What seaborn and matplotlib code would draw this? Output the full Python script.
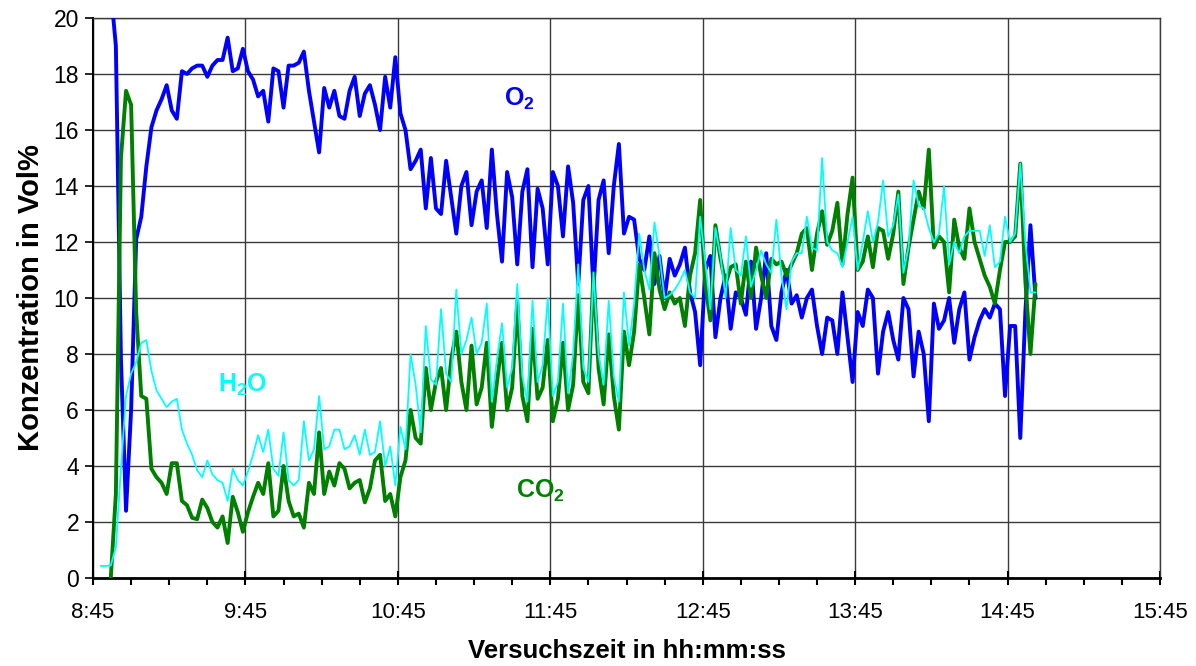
import numpy as np
import pandas as pd
import matplotlib
matplotlib.use("Agg")
import matplotlib.pyplot as plt
import seaborn as sns
from matplotlib.ticker import MultipleLocator, FuncFormatter

# Measurement log: one sample every 2 minutes, first sample at 8:48
first_sample = "08:48"
sample_step_min = 2

h2o = [0.43, 0.43, 0.45, 1.1, 3.9, 6.5, 7.3, 7.7, 8.4, 8.5, 7.4, 6.7, 6.4, 6.1, 6.3, 6.4, 5.3, 4.8, 4.4, 3.85,
       3.6, 4.2, 3.7, 3.5, 3.4, 2.75, 3.9, 3.5, 3.3, 3.8, 4.4, 5.1, 4.5, 5.3, 3.9, 3.65, 5.2, 3.5,
       3.3, 3.5, 5.6, 4.2, 4.6, 6.5, 4.6, 4.7, 5.3, 5.3, 4.6, 4.7, 5.1, 4.4, 5.3, 4.4, 4.5, 5.6, 4.0, 4.7,
       3.3, 5.4, 4.6, 8.0, 6.9, 5.2, 9.0, 7.1, 6.9, 9.6, 7.3, 7.0, 10.3, 8.0, 8.5, 9.3, 8.0, 8.4, 9.8,
       6.3, 7.8, 9.1, 6.8, 7.5, 10.5, 7.2, 6.3, 9.9, 7.0, 7.6, 10.0, 6.5, 7.0, 9.8, 6.6, 8.0, 11.2, 7.5, 7.0,
       10.9, 8.0, 6.9, 9.9, 7.2, 6.3, 10.2, 8.3, 9.8, 12.3, 11.0, 10.3, 12.7, 11.5, 10.0, 10.1, 10.3, 10.6, 11.0,
       10.2, 10.0, 12.9, 11.3, 9.6, 12.5, 11.5, 10.0, 12.5, 11.0, 10.8, 12.2, 10.4, 11.0, 11.7, 11.2, 10.9, 12.8,
       10.8, 9.6, 11.3, 11.6, 11.6, 12.9, 11.8, 11.7, 15.0, 12.0, 11.7, 11.6, 11.1, 12.0, 12.9, 11.0, 12.0, 13.1,
       12.0, 12.7, 14.2,
       12.2, 12.6, 13.7, 10.9, 11.8, 14.2, 13.3, 13.2, 12.5, 12.0, 12.3, 14.0, 11.2, 12.0, 11.6, 12.2, 12.4, 12.4,
       12.4, 11.5, 12.6, 11.1, 11.3, 12.9, 12.0, 12.3, 14.8, 12.0, 10.2, 10.2]

co2 = [None, None, 0.0, 3.0, 15.0, 17.4, 16.9, 9.5, 6.5, 6.4, 3.9, 3.6, 3.4, 3.0, 4.1, 4.1, 2.75, 2.6, 2.15, 2.1,
       2.8, 2.5, 2.0, 1.8, 2.2, 1.25, 2.9, 2.35, 1.65, 2.35, 2.9, 3.4, 3.0, 4.1, 2.2, 2.4, 4.0, 2.75,
       2.2, 2.3, 1.8, 3.4, 3.0, 5.2, 3.0, 3.8, 3.3, 4.1, 3.9, 3.2, 3.4, 3.5, 2.7, 3.2, 4.2, 4.4, 2.75, 3.0,
       2.2, 3.6, 4.2, 6.0, 5.0, 4.8, 7.5, 6.0, 7.0, 7.5, 6.0, 7.8, 8.8, 7.0, 6.0, 8.3, 6.2, 6.8, 8.4,
       5.4, 7.0, 8.4, 6.0, 6.8, 9.9, 6.5, 5.6, 8.9, 6.4, 6.8, 8.5, 5.6, 6.4, 8.4, 6.0, 6.9, 10.1, 7.0, 6.6,
       10.9, 7.5, 6.2, 8.7, 6.5, 5.3, 8.8, 7.6, 8.8, 11.2, 10.0, 8.7, 11.6, 10.3, 9.6, 10.2, 9.8, 10.0, 9.0,
       10.8, 11.6, 13.5, 10.5, 9.2, 12.6, 11.4, 10.5, 11.1, 11.2, 9.8, 11.3, 10.0, 11.8, 10.8, 10.0, 11.4, 11.2,
       11.3, 10.8, 11.2, 11.6, 12.3, 12.5, 11.0, 12.3, 13.1, 11.9, 12.4, 13.4, 11.2, 13.0, 14.3, 11.0, 11.3, 12.2,
       11.1, 12.5, 12.4,
       11.4, 12.3, 13.8, 10.5, 11.8, 12.8, 13.8, 13.2, 15.3, 11.8, 12.2, 12.0, 10.2, 12.8, 11.8, 11.4, 13.2, 12.0,
       11.4, 10.8, 10.4, 9.8, 11.0, 12.0, 12.0, 12.2, 14.8, 10.6, 8.0, 10.5]

o2 = [None, None, 21.0, 19.0, 7.8, 2.4, 6.0, 12.1, 12.9, 14.7, 16.1, 16.7, 17.1, 17.6, 16.7, 16.4, 18.1, 18.0, 18.2, 18.3,
      18.3, 17.9, 18.3, 18.5, 18.5, 19.3, 18.1, 18.2, 18.9, 18.1, 17.8, 17.2, 17.4, 16.3, 18.2, 18.1, 16.8, 18.3,
      18.3, 18.4, 18.8, 17.4, 16.3, 15.2, 17.5, 16.8, 17.4, 16.5, 16.4, 17.4, 17.9, 16.5, 17.3, 17.6, 16.9, 16.0, 17.9, 16.8,
      18.6, 16.6, 16.0, 14.6, 14.9, 15.3, 13.2, 15.0, 13.2, 13.0, 14.9, 13.6, 12.3, 14.0, 14.5, 12.6, 13.8, 14.2, 12.5,
      15.3, 13.0, 11.3, 14.5, 13.6, 11.2, 13.8, 14.6, 11.1, 13.9, 13.2, 11.2, 14.5, 14.0, 12.2, 14.7, 13.4, 10.5, 13.5, 14.0,
      10.3, 13.5, 14.2, 11.6, 14.0, 15.5, 12.3, 12.9, 12.8, 11.4, 11.0, 12.2, 10.5, 11.5, 10.0, 11.4, 10.8, 11.2, 11.8,
      10.2, 9.5, 7.6, 11.0, 11.5, 8.6, 10.0, 10.8, 8.9, 10.2, 10.0, 9.4, 11.3, 8.9, 10.0, 11.6, 9.0, 8.5,
      10.2, 11.0, 9.8, 10.1, 9.3, 10.0, 10.3, 9.0, 8.0, 9.3, 9.2, 8.0, 10.2, 8.6, 7.0, 9.5, 9.0, 10.3,
      10.0, 7.3, 8.8,
      9.5, 8.5, 7.8, 10.0, 9.6, 7.2, 8.8, 8.0, 5.6, 9.8, 8.9, 9.2, 10.0, 8.4, 9.6, 10.2, 7.8, 8.6,
      9.2, 9.6, 9.3, 9.8, 9.6, 6.5, 9.0, 9.0, 5.0, 9.5, 12.6, 10.0]

x_start = "08:45"
x_end = "15:45"
y_ticks = list(range(0, 21, 2))

def to_min(s):
    h, m = s.split(":")
    return int(h) * 60 + int(m)

axis_origin = to_min(x_start)
minutes = to_min(first_sample) - axis_origin + sample_step_min * np.arange(len(h2o))
df = pd.DataFrame({"t": minutes,
                   "O2": pd.to_numeric(pd.Series(o2), errors="coerce"),
                   "CO2": pd.to_numeric(pd.Series(co2), errors="coerce"),
                   "H2O": pd.to_numeric(pd.Series(h2o), errors="coerce")})

sns.set_theme(style="white")
plt.rcParams["font.family"] = ["Liberation Sans", "DejaVu Sans"]
plt.rcParams["mathtext.fontset"] = "custom"
plt.rcParams["mathtext.rm"] = "Liberation Sans"
plt.rcParams["mathtext.bf"] = "Liberation Sans:bold"
plt.rcParams["text.color"] = "black"
plt.rcParams["axes.labelcolor"] = "black"
plt.rcParams["xtick.color"] = "black"
plt.rcParams["ytick.color"] = "black"

fig = plt.figure(figsize=(11.96, 6.66), dpi=100)
ax = fig.add_axes([93 / 1196, 1 - 578 / 666, (1160 - 93) / 1196, (578 - 18) / 666])

sns.lineplot(data=df.dropna(subset=["O2"]), x="t", y="O2", color="#0000FF", lw=2.8, ax=ax, zorder=3)
sns.lineplot(data=df.dropna(subset=["CO2"]), x="t", y="CO2", color="#008000", lw=2.8, ax=ax, zorder=4)
sns.lineplot(data=df, x="t", y="H2O", color="#00FFFF", lw=1.3, ax=ax, zorder=5)

ax.set_xlim(0, to_min(x_end) - axis_origin)
ax.set_ylim(0, 20)
ax.set_yticks(y_ticks)
ax.xaxis.set_major_locator(MultipleLocator(60))
ax.xaxis.set_minor_locator(MultipleLocator(15))
ax.xaxis.set_major_formatter(FuncFormatter(
    lambda v, p: f"{int((axis_origin + v) // 60)}:{int((axis_origin + v) % 60):02d}"))

ax.grid(True, which="major", color="#3a3a3a", lw=1.0)
ax.set_axisbelow(True)
for side in ["top", "right"]:
    ax.spines[side].set_color("#3a3a3a")
    ax.spines[side].set_linewidth(1.0)
ax.spines["left"].set_color("black")
ax.spines["left"].set_linewidth(1.5)
ax.spines["bottom"].set_color("black")
ax.spines["bottom"].set_linewidth(2.0)

ax.tick_params(axis="x", which="major", direction="inout", length=10, width=1.5,
               labelsize=16, pad=12, colors="black", bottom=True)
ax.tick_params(axis="x", which="minor", direction="out", length=5, width=1.5, bottom=True)
ax.tick_params(axis="y", which="major", direction="out", length=6, width=1.2,
               labelsize=16.5, pad=4, colors="black", left=True)

ax.set_xlabel("Versuchszeit in hh:mm:ss", fontsize=18.5, fontweight="bold", labelpad=12)
ax.set_ylabel("Konzentration in Vol%", fontsize=21, fontweight="bold", labelpad=6)

ax.text(168, 17.1, r"$\mathbf{O_2}$", color="#0000FF", fontsize=18, ha="center", va="center")
ax.text(59, 6.9, r"$\mathbf{H_2O}$", color="#00FFFF", fontsize=18, ha="center", va="center")
ax.text(176, 3.1, r"$\mathbf{CO_2}$", color="#008000", fontsize=18, ha="center", va="center")

fig.savefig("out.png", dpi=100)
